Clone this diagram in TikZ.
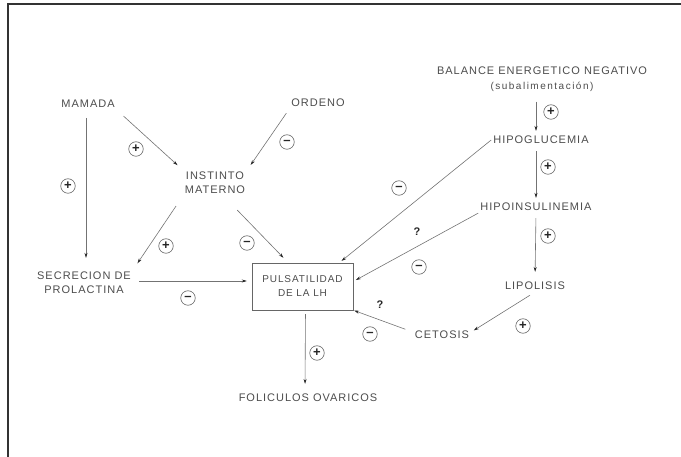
\documentclass[tikz,border=0pt]{standalone}
\usepackage{fontspec}
\setmainfont[LetterSpace=9]{Liberation Sans}
\usetikzlibrary{arrows.meta}
\begin{document}
\begin{tikzpicture}[x=1pt,y=-1pt,
    lbl/.style={font=\fontsize{11}{14}\selectfont,text=black!70,inner sep=2pt,align=center},
    sgn/.style={circle,draw=black!60,line width=0.6pt,minimum size=14.5pt,inner sep=0pt,
      font=\fontsize{13}{13}\selectfont\bfseries,text=black!85},
    arr/.style={draw=black!55,line width=0.6pt,-{Stealth[length=5pt,width=3pt,black!85]}},
    lhbox/.style={lbl,font=\fontsize{10}{14}\selectfont,draw=black!60,
      minimum width=101pt,minimum height=47pt}]
  \useasboundingbox (0,0) rectangle (681,457);
  % marco
  \draw[line width=1.5pt,black!80] (8,457) -- (8,4) -- (681,4);
  % nodos
  \node[lbl] (mam) at (88,104) {MAMADA};
  \node[lbl] (ord) at (318,103) {ORDENO};
  \node[lbl] (bal) at (542,79) {BALANCE ENERGETICO NEGATIVO\\[1pt]
    {\fontsize{10}{12}\selectfont\addfontfeatures{LetterSpace=15}(subalimentación)}};
  \node[lbl] (glu) at (541,140) {HIPOGLUCEMIA};
  \node[lbl] (ins) at (536,207) {HIPOINSULINEMIA};
  \node[lbl] (lip) at (535,286) {LIPOLISIS};
  \node[lbl] (cet) at (442,335) {CETOSIS};
  \node[lbl] (mat) at (215,183) {INSTINTO\\MATERNO};
  \node[lbl] (pro) at (84,283) {SECRECION DE\\PROLACTINA};
  \node[lhbox] (lh) at (302.5,286.5) {PULSATILIDAD\\DE LA LH};
  \node[lbl] (fol) at (308,398) {FOLICULOS OVARICOS};
  % flechas
  \draw[arr,shorten <=8pt,shorten >=12pt] ([xshift=-2pt]mam.south) -- ([xshift=-2pt]mam.south |- pro.north);
  \draw[arr,shorten <=9pt,shorten >=7pt] (mam.south east) -- (mat.north west);
  \draw[arr,shorten <=5pt,shorten >=6pt] (ord.south west) -- (mat.north east);
  \draw[arr,shorten <=12pt,shorten >=8pt] (mat.south west) -- (pro.north east);
  \draw[arr] ([xshift=-10pt,yshift=-14pt]mat.south east) -- ([xshift=-19pt,yshift=5pt]lh.north);
  \draw[arr,shorten <=6pt,shorten >=5pt] ([yshift=2pt]pro.east) -- ([yshift=2pt]pro.east -| lh.west);
  \draw[arr,shorten <=8pt,shorten >=3pt] ([xshift=-6pt]bal.south) -- ([xshift=-5pt]glu.north);
  \draw[arr,shorten <=5pt,shorten >=3pt] ([xshift=-5pt]glu.south) -- (ins.north);
  \draw[arr,shorten <=5pt,shorten >=8pt] (ins.south) -- (lip.north);
  \draw[arr,shorten >=3pt] (glu.west) -- ([xshift=-14pt]lh.north east);
  \draw[arr,shorten >=3pt] (ins.south west) -- ([yshift=5pt]lh.east);
  \draw[arr,shorten <=6pt,shorten >=3pt] (lip.south) -- ([yshift=3pt]cet.east);
  \draw[arr,shorten <=8pt,shorten >=1pt] ([yshift=3pt]cet.west) -- (lh.south east);
  \draw[arr,shorten <=4pt,shorten >=8pt] ([xshift=3pt]lh.south) -- ([xshift=-3pt]fol.north);
  % signos
  \def\Signs{
    1/68/186/+,
    2/136/149/+,
    3/287/142/--,
    4/166/246/+,
    5/247/243/--,
    6/188/298/--,
    7/551/112/+,
    8/548/167/+,
    9/548/236/+,
    10/399/188/--,
    11/419/267/--,
    12/523/326/+,
    13/370/334/--,
    14/317/353/+}
  \foreach \id / \x / \y / \s in \Signs{
    \node[sgn] (s\id) at (\x,\y) {\s};
  }
  \node[lbl,font=\fontsize{11}{11}\selectfont\bfseries,text=black!85] (q1) at (417,232) {?};
  \node[lbl,font=\fontsize{11}{11}\selectfont\bfseries,text=black!85] (q2) at (380,305) {?};
\end{tikzpicture}
\end{document}
